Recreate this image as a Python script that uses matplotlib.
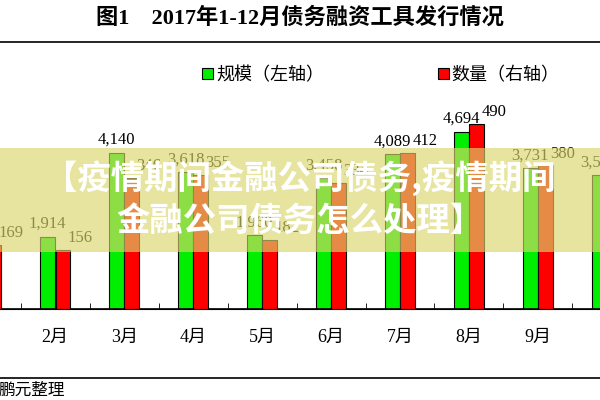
import matplotlib.pyplot as plt
import numpy as np

plt.rcParams['font.family'] = ['Liberation Serif', 'Noto Sans CJK SC']

months = [1, 2, 3, 4, 5, 6, 7, 8, 9, 10]
month_labels = ['%d月' % m for m in months]
scale = [1544, 1914, 4140, 3618, 1960, 3458, 4089, 4694, 3731, 3550]   # 亿元, left axis
count = [169, 156, 346, 355, 182, 334, 412, 490, 380, 360]            # 只, right axis

fig = plt.figure(figsize=(6, 4), dpi=100)
ax = fig.add_axes([0, 0.2275, 1, 0.4725])
ax2 = ax.twinx()

x = np.array(months, dtype=float)
w = 0.21
ax.bar(x - 0.11, scale, w, color='#00ee00', edgecolor='black', linewidth=0.8, zorder=2)
ax2.bar(x + 0.11, count, w, color='#ff0000', edgecolor='black', linewidth=0.8, zorder=2)

for xi, v in zip(x, scale):
    ax.text(xi - 0.11, v + 120, '{:,}'.format(v), ha='center', va='bottom', fontsize=12)
for xi, v in zip(x, count):
    ax2.text(xi + 0.11 + 0.07, v + 10, str(v), ha='left', va='bottom', fontsize=12)

ax.set_ylim(0, 5000)
ax2.set_ylim(0, 500)
ax.set_xticks(x)
ax.set_xticklabels(month_labels, fontsize=13)
ax.set_xticks(x + 0.5, minor=True)
ax.tick_params(axis='x', which='major', length=0, pad=14)
ax.tick_params(axis='x', which='minor', direction='in', length=4)
ax.set_yticks([])
ax2.set_yticks([])
for a in (ax, ax2):
    for s in ['top', 'left', 'right']:
        a.spines[s].set_visible(False)
ax.spines['bottom'].set_linewidth(1.2)
ax.set_xlim(1.2, 9.9)
ax2.set_xlim(1.2, 9.9)

# title and frame lines
fig.text(0.5, 0.955, '图1　2017年1-12月债务融资工具发行情况', ha='center', va='center',
         fontsize=16, fontweight='bold')
fig.add_artist(plt.Line2D([0, 1], [0.895, 0.895], color='black', lw=1.2))
fig.add_artist(plt.Line2D([0, 1], [0.055, 0.055], color='black', lw=1.2))
fig.text(-0.003, 0.025, '鹏元整理', ha='left', va='center', fontsize=12,
         family=['Noto Sans CJK SC'])

# legend
fig.patches.append(plt.Rectangle((0.337, 0.802), 0.018, 0.027, facecolor='#00ee00',
                                 edgecolor='black', lw=0.8, transform=fig.transFigure))
fig.text(0.36, 0.812, '规模（左轴）', va='center', fontsize=13, family=['Noto Sans CJK SC'])
fig.patches.append(plt.Rectangle((0.73, 0.802), 0.018, 0.027, facecolor='#ff0000',
                                 edgecolor='black', lw=0.8, transform=fig.transFigure))
fig.text(0.753, 0.812, '数量（右轴）', va='center', fontsize=13, family=['Noto Sans CJK SC'])

# overlay banner
fig.patches.append(plt.Rectangle((0, 0.37), 1, 0.26, facecolor=(217/255, 214/255, 107/255),
                                 alpha=0.655, edgecolor='none', transform=fig.transFigure,
                                 zorder=10))
fig.text(0.5, 0.555, '【疫情期间金融公司债务,疫情期间', ha='center', va='center', color='white',
         fontsize=24, fontweight='bold', family=['Noto Sans CJK SC'], zorder=11)
fig.text(0.5, 0.445, '金融公司债务怎么处理】', ha='center', va='center', color='white',
         fontsize=24, fontweight='bold', family=['Noto Sans CJK SC'], zorder=11)

fig.savefig('out.png', dpi=100)
